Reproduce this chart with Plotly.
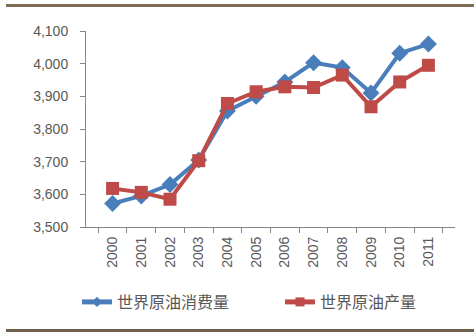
import plotly.graph_objects as go

years = ["2000", "2001", "2002", "2003", "2004", "2005", "2006", "2007", "2008", "2009", "2010", "2011"]
consumption = [3572, 3595, 3630, 3705, 3855, 3900, 3944, 4003, 3988, 3910, 4032, 4060]
production = [3618, 3606, 3585, 3703, 3878, 3914, 3929, 3927, 3965, 3868, 3944, 3995]
series_names = ["世界原油消费量", "世界原油产量"]
y_ticks = [3500, 3600, 3700, 3800, 3900, 4000, 4100]

W, H = 474, 336
L, R, T, B = 86, 19, 31, 109
pw, ph = W - L - R, H - T - B

def px(x):
    return (x - L) / pw

def py(y):
    return (H - B - y) / ph

blue, red = "#4A7EBB", "#BE4B48"

fig = go.Figure()
fig.add_trace(go.Scatter(
    x=years, y=consumption, name=series_names[0], mode="lines+markers",
    line=dict(color=blue, width=4),
    marker=dict(symbol="diamond", size=13, color=blue),
    showlegend=False,
))
fig.add_trace(go.Scatter(
    x=years, y=production, name=series_names[1], mode="lines+markers",
    line=dict(color=red, width=4),
    marker=dict(symbol="square", size=13, color=red),
    showlegend=False,
))
# legend entries (smaller markers as in reference)
fig.add_trace(go.Scatter(
    x=[None], y=[None], name=series_names[0], mode="lines+markers",
    line=dict(color=blue, width=5), marker=dict(symbol="diamond", size=8, color=blue),
    legend="legend",
))
fig.add_trace(go.Scatter(
    x=[None], y=[None], name=series_names[1], mode="lines+markers",
    line=dict(color=red, width=5), marker=dict(symbol="square", size=9, color=red),
    legend="legend2",
))

axis_col = "#868686"
tick_font = dict(family="Liberation Sans, Arial", size=14, color="#595959")
leg_font = dict(family="Noto Sans CJK SC", size=16, color="#595959")

fig.update_layout(
    width=W, height=H,
    margin=dict(l=L, r=R, t=T, b=B, autoexpand=False),
    paper_bgcolor="white", plot_bgcolor="white",
    showlegend=True,
    legend=dict(
        orientation="h", x=px(77), y=py(302), xanchor="left", yanchor="middle",
        font=leg_font, bgcolor="rgba(0,0,0,0)",
    ),
    legend2=dict(
        orientation="h", x=px(280), y=py(302), xanchor="left", yanchor="middle",
        font=leg_font, bgcolor="rgba(0,0,0,0)",
    ),
    xaxis=dict(
        type="category", tickson="boundaries", ticks="outside", ticklen=5,
        tickcolor=axis_col, showline=True, linecolor=axis_col, linewidth=1,
        showgrid=False, tickangle=-90, tickfont=tick_font, zeroline=False,
        ticklabelstandoff=3,
    ),
    yaxis=dict(
        range=[3500, 4100], tickvals=y_ticks, tickformat=",d",
        ticks="outside", ticklen=5, tickcolor=axis_col, showline=True,
        linecolor=axis_col, linewidth=1, showgrid=False, tickfont=tick_font,
        zeroline=False, ticklabelstandoff=9,
    ),
    shapes=[
        dict(type="line", xref="paper", yref="paper", x0=px(6), x1=px(474),
             y0=py(5.5), y1=py(5.5), line=dict(color="#7D6B53", width=3)),
        dict(type="line", xref="paper", yref="paper", x0=px(6), x1=px(474),
             y0=py(330.5), y1=py(330.5), line=dict(color="#6E5F4C", width=3)),
    ],
)

fig.write_html("out.html")
